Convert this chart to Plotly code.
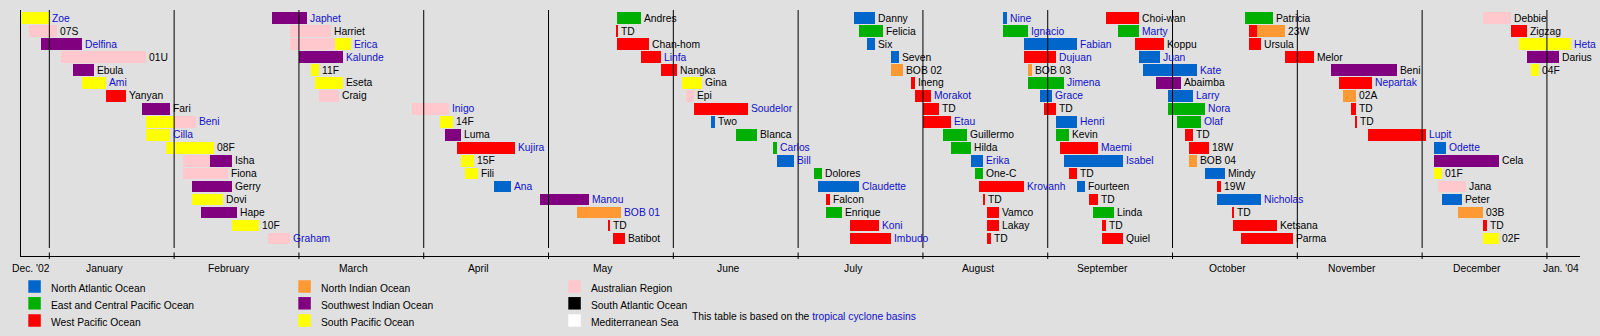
import calendar
import plotly.graph_objects as go

# ---------------- data ----------------
storm_names = [
    "Zoe", "07S", "Delfina", "01U", "Ebula", "Ami", "Yanyan", "Fari", "Beni", "Cilla",
    "08F", "Isha", "Fiona", "Gerry", "Dovi", "Hape", "10F", "Graham",
    "Japhet", "Harriet", "Erica", "Kalunde", "11F", "Eseta", "Craig", "Inigo", "14F", "Luma",
    "Kujira", "15F", "Fili", "Ana", "Manou", "BOB 01", "TD", "Batibot",
    "Andres", "TD", "Chan-hom", "Linfa", "Nangka", "Gina", "Epi", "Soudelor", "Two", "Blanca",
    "Carlos", "Bill", "Dolores", "Claudette", "Falcon", "Enrique", "Koni", "Imbudo",
    "Danny", "Felicia", "Six", "Seven", "BOB 02", "Ineng", "Morakot", "TD", "Etau", "Guillermo",
    "Hilda", "Erika", "One-C", "Krovanh", "TD", "Vamco", "Lakay", "TD",
    "Nine", "Ignacio", "Fabian", "Dujuan", "BOB 03", "Jimena", "Grace", "TD", "Henri", "Kevin",
    "Maemi", "Isabel", "TD", "Fourteen", "TD", "Linda", "TD", "Quiel",
    "Choi-wan", "Marty", "Koppu", "Juan", "Kate", "Abaimba", "Larry", "Nora", "Olaf", "TD",
    "18W", "BOB 04", "Mindy", "19W", "Nicholas", "TD", "Ketsana", "Parma",
    "Patricia", "23W", "Ursula", "Melor", "Beni", "Nepartak", "02A", "TD", "TD", "Lupit",
    "Odette", "Cela", "01F", "Jana", "Peter", "03B", "TD", "02F",
    "Debbie", "Zigzag", "Heta", "Darius", "04F",
]

storm_basins = [
    "SP", "AU", "SWI", "AU", "SWI", "SP", "WP", "SWI", "SP", "SP", "SP", "AU", "AU", "SWI", "SP", "SWI", "SP", "AU",
    "SWI", "AU", "AU", "SWI", "SP", "SP", "AU", "AU", "SP", "SWI", "WP", "SP", "SP", "NA", "SWI", "NI", "WP", "WP",
    "EP", "WP", "WP", "WP", "WP", "SP", "AU", "WP", "NA", "EP", "EP", "NA", "EP", "NA", "WP", "EP", "WP", "WP",
    "NA", "EP", "NA", "NA", "NI", "WP", "WP", "WP", "WP", "EP", "EP", "NA", "EP", "WP", "WP", "WP", "WP", "WP",
    "NA", "EP", "NA", "WP", "NI", "EP", "NA", "WP", "NA", "EP", "WP", "NA", "WP", "NA", "WP", "EP", "WP", "WP",
    "WP", "EP", "WP", "NA", "NA", "SWI", "NA", "EP", "EP", "WP", "WP", "NI", "NA", "WP", "NA", "WP", "WP", "WP",
    "EP", "WP", "WP", "WP", "SWI", "WP", "NI", "WP", "WP", "WP", "NA", "SWI", "SP", "AU", "NA", "NI", "WP", "SP",
    "AU", "WP", "SP", "SWI", "SP",
]

storm_start = [
    "2002-12-25", "2002-12-27", "2002-12-30", "2003-01-04", "2003-01-07", "2003-01-09", "2003-01-15", "2003-01-24",
    "2003-01-25", "2003-01-25", "2003-01-30", "2003-02-03", "2003-02-03", "2003-02-05", "2003-02-05", "2003-02-07",
    "2003-02-14", "2003-02-22",
    "2003-02-23", "2003-02-27", "2003-02-27", "2003-03-01", "2003-03-04", "2003-03-05", "2003-03-06", "2003-03-29",
    "2003-04-05", "2003-04-06", "2003-04-09", "2003-04-10", "2003-04-11", "2003-04-18", "2003-04-29", "2003-05-08",
    "2003-05-16", "2003-05-17",
    "2003-05-18", "2003-05-18", "2003-05-18", "2003-05-24", "2003-05-29", "2003-06-03", "2003-06-04", "2003-06-06",
    "2003-06-10", "2003-06-16", "2003-06-25", "2003-06-26", "2003-07-05", "2003-07-06", "2003-07-08", "2003-07-08",
    "2003-07-14", "2003-07-14",
    "2003-07-15", "2003-07-16", "2003-07-18", "2003-07-24", "2003-07-24", "2003-07-29", "2003-07-30", "2003-08-01",
    "2003-08-01", "2003-08-06", "2003-08-08", "2003-08-13", "2003-08-14", "2003-08-15", "2003-08-16", "2003-08-17",
    "2003-08-17", "2003-08-17",
    "2003-08-21", "2003-08-21", "2003-08-26", "2003-08-26", "2003-08-27", "2003-08-27", "2003-08-30", "2003-08-31",
    "2003-09-03", "2003-09-03", "2003-09-04", "2003-09-05", "2003-09-06", "2003-09-08", "2003-09-11", "2003-09-12",
    "2003-09-14", "2003-09-14",
    "2003-09-15", "2003-09-18", "2003-09-22", "2003-09-23", "2003-09-24", "2003-09-27", "2003-09-30", "2003-09-30",
    "2003-10-02", "2003-10-04", "2003-10-05", "2003-10-05", "2003-10-09", "2003-10-12", "2003-10-12", "2003-10-16",
    "2003-10-16", "2003-10-18",
    "2003-10-19", "2003-10-20", "2003-10-20", "2003-10-29", "2003-11-09", "2003-11-11", "2003-11-12", "2003-11-14",
    "2003-11-15", "2003-11-18", "2003-12-04", "2003-12-04", "2003-12-04", "2003-12-05", "2003-12-06", "2003-12-10",
    "2003-12-16", "2003-12-16",
    "2003-12-16", "2003-12-23", "2003-12-25", "2003-12-27", "2003-12-28",
]

storm_end = [
    "2003-01-01", "2003-01-03", "2003-01-09", "2003-01-25", "2003-01-12", "2003-01-15", "2003-01-20", "2003-01-31",
    "2003-02-06", "2003-01-31", "2003-02-10", "2003-02-14", "2003-02-13", "2003-02-14", "2003-02-12", "2003-02-15",
    "2003-02-20", "2003-02-27",
    "2003-03-03", "2003-03-09", "2003-03-14", "2003-03-12", "2003-03-06", "2003-03-12", "2003-03-11", "2003-04-07",
    "2003-04-08", "2003-04-10", "2003-04-23", "2003-04-13", "2003-04-14", "2003-04-22", "2003-05-11", "2003-05-19",
    "2003-05-16", "2003-05-20",
    "2003-05-24", "2003-05-18", "2003-05-26", "2003-05-29", "2003-06-02", "2003-06-08", "2003-06-06", "2003-06-19",
    "2003-06-11", "2003-06-21", "2003-06-26", "2003-06-30", "2003-07-07", "2003-07-16", "2003-07-09", "2003-07-12",
    "2003-07-21", "2003-07-24",
    "2003-07-20", "2003-07-22", "2003-07-20", "2003-07-26", "2003-07-27", "2003-07-30", "2003-08-03", "2003-08-05",
    "2003-08-08", "2003-08-12", "2003-08-13", "2003-08-16", "2003-08-16", "2003-08-26", "2003-08-16", "2003-08-20",
    "2003-08-20", "2003-08-18",
    "2003-08-22", "2003-08-27", "2003-09-08", "2003-09-03", "2003-08-28", "2003-09-05", "2003-09-02", "2003-09-03",
    "2003-09-08", "2003-09-06", "2003-09-13", "2003-09-19", "2003-09-08", "2003-09-10", "2003-09-13", "2003-09-17",
    "2003-09-15", "2003-09-19",
    "2003-09-23", "2003-09-23", "2003-09-29", "2003-09-28", "2003-10-07", "2003-10-03", "2003-10-06", "2003-10-09",
    "2003-10-08", "2003-10-06", "2003-10-10", "2003-10-07", "2003-10-14", "2003-10-13", "2003-10-23", "2003-10-16",
    "2003-10-27", "2003-10-31",
    "2003-10-26", "2003-10-29", "2003-10-23", "2003-11-05", "2003-11-25", "2003-11-19", "2003-11-15", "2003-11-15",
    "2003-11-15", "2003-12-02", "2003-12-07", "2003-12-20", "2003-12-06", "2003-12-12", "2003-12-11", "2003-12-16",
    "2003-12-17", "2003-12-20",
    "2003-12-23", "2003-12-27", "2004-01-07", "2004-01-04", "2003-12-30",
]

# 1 = name shown as a link (blue)
storm_linked = [
    1, 0, 1, 0, 0, 1, 0, 0, 1, 1, 0, 0, 0, 0, 0, 0, 0, 1,
    1, 0, 1, 1, 0, 0, 0, 1, 0, 0, 1, 0, 0, 1, 1, 1, 0, 0,
    0, 0, 0, 1, 0, 0, 0, 1, 0, 0, 1, 1, 0, 1, 0, 0, 1, 1,
    0, 0, 0, 0, 0, 0, 1, 0, 1, 0, 0, 1, 0, 1, 0, 0, 0, 0,
    1, 1, 1, 1, 0, 1, 1, 0, 1, 0, 1, 1, 0, 0, 0, 0, 0, 0,
    0, 1, 0, 1, 1, 0, 1, 1, 1, 0, 0, 0, 0, 0, 1, 0, 0, 0,
    0, 0, 0, 0, 0, 1, 0, 0, 0, 1, 1, 0, 0, 0, 0, 0, 0, 0,
    0, 0, 1, 0, 0,
]

# storms that moved into another basin: storm index -> (date of change, new basin)
basin_changes = {
    8: ("2003-02-01", "AU"),
    11: ("2003-02-09", "SWI"),
    20: ("2003-03-10", "SP"),
    109: ("2003-10-22", "NI"),
}

basin_keys = ["NA", "EP", "WP", "NI", "SWI", "SP", "AU", "SA", "MED"]
basin_names = [
    "North Atlantic Ocean", "East and Central Pacific Ocean", "West Pacific Ocean",
    "North Indian Ocean", "Southwest Indian Ocean", "South Pacific Ocean",
    "Australian Region", "South Atlantic Ocean", "Mediterranean Sea",
]
basin_colors = ["#0066CC", "#00B000", "#FF0000", "#FF9933", "#800080", "#FFFF00",
                "#FFC8CC", "#000000", "#FFFFFF"]

month_labels = ["Dec. '02", "January", "February", "March", "April", "May", "June", "July",
                "August", "September", "October", "November", "December", "Jan. '04"]

# ---------------- layout constants ----------------
W, H = 1600, 336
ML, MR, MT, MB = 21, 20, 10, 80
PW, PH = W - ML - MR, H - MT - MB
ROWS = 18
FONT = "Liberation Sans, Arial, sans-serif"
FS = 10.3
LINK = "#1010C8"
BG = "#E0E0E0"
X0, X1 = -0.227, 12.265
Y_TOP, Y_BOT = -0.633, 18.36
MIN_LEN = 0.012


def to_x(d):
    y, m, day = (int(v) for v in d.split("-"))
    nd = calendar.monthrange(y, m)[1]
    return (y - 2003) * 12 + (m - 1) + (day - 1) / nd


def px_x(p):
    return (p - ML) / PW


def px_y(p):
    return (H - MB - p) / PH


color_of = dict(zip(basin_keys, basin_colors))
segs = {k: {"y": [], "base": [], "len": []} for k in basin_keys}
labels = []
for i, name in enumerate(storm_names):
    row = i % ROWS
    s, e = to_x(storm_start[i]), to_x(storm_end[i])
    if e - s < MIN_LEN:
        e = s + MIN_LEN
    if i in basin_changes:
        cd, nb = basin_changes[i]
        c = to_x(cd)
        parts = [(storm_basins[i], s, c), (nb, c, e)]
    else:
        parts = [(storm_basins[i], s, e)]
    for b, a, z in parts:
        segs[b]["y"].append(row)
        segs[b]["base"].append(a)
        segs[b]["len"].append(z - a)
    labels.append((e, row, name, storm_linked[i]))

fig = go.Figure()
for k in basin_keys:
    if not segs[k]["y"]:
        continue
    fig.add_trace(go.Bar(
        orientation="h", y=segs[k]["y"], x=segs[k]["len"], base=segs[k]["base"],
        width=0.9, marker=dict(color=color_of[k], line=dict(width=0)),
        showlegend=False, hoverinfo="skip",
    ))

annotations = []
for e, row, name, linked in labels:
    annotations.append(dict(
        x=e, y=row, xref="x", yref="y", text=name, showarrow=False,
        xanchor="left", yanchor="middle", xshift=2, borderpad=0,
        font=dict(family=FONT, size=FS, color=LINK if linked else "#000000"),
    ))

# month axis labels
label_pos = [-0.145] + [m + 0.44 for m in range(12)] + [12.116]
for pos, txt in zip(label_pos, month_labels):
    annotations.append(dict(
        x=pos, y=px_y(268), xref="x", yref="paper", text=txt, showarrow=False,
        xanchor="center", yanchor="middle", borderpad=0,
        font=dict(family=FONT, size=FS, color="#000000"),
    ))

shapes = []
for m in range(13):
    shapes.append(dict(type="line", xref="x", yref="paper", x0=m, x1=m,
                       y0=px_y(248), y1=1, line=dict(color="black", width=1), layer="above"))
    shapes.append(dict(type="line", xref="x", yref="paper", x0=m, x1=m,
                       y0=px_y(259), y1=px_y(252.5), line=dict(color="black", width=1)))

# legend (3 columns x 3 rows)
col_sq = [28.3, 298.3, 568.3]
col_tx = [50, 320, 590]
row_sq = [286.5, 303.3, 320.5]
row_tx = [288.3, 305.3, 322]
SQ = 12.5
for j, (nm, colr) in enumerate(zip(basin_names, basin_colors)):
    c, r = j // 3, j % 3
    shapes.append(dict(type="rect", xref="paper", yref="paper",
                       x0=px_x(col_sq[c]), x1=px_x(col_sq[c] + SQ),
                       y0=px_y(row_sq[r] + SQ / 2), y1=px_y(row_sq[r] - SQ / 2),
                       fillcolor=colr, line=dict(width=0)))
    annotations.append(dict(
        x=px_x(col_tx[c]), y=px_y(row_tx[r]), xref="paper", yref="paper", text=nm,
        showarrow=False, xanchor="left", yanchor="middle", borderpad=0,
        font=dict(family=FONT, size=FS, color="#000000"),
    ))

annotations.append(dict(
    x=px_x(690.5), y=px_y(316), xref="paper", yref="paper",
    text="This table is based on the <span style='color:%s'>tropical cyclone basins</span>" % LINK,
    showarrow=False, xanchor="left", yanchor="middle", borderpad=0,
    font=dict(family=FONT, size=FS, color="#000000"),
))

fig.update_layout(
    width=W, height=H, autosize=False,
    margin=dict(l=ML, r=MR, t=MT, b=MB, pad=0),
    paper_bgcolor=BG, plot_bgcolor=BG,
    barmode="overlay", bargap=0,
    xaxis=dict(range=[X0, X1], showgrid=False, zeroline=False, showticklabels=False,
               ticks="", showline=True, linecolor="black", linewidth=1, fixedrange=True),
    yaxis=dict(range=[Y_BOT, Y_TOP], showgrid=False, zeroline=False, showticklabels=False,
               ticks="", showline=True, linecolor="black", linewidth=1, fixedrange=True),
    shapes=shapes, annotations=annotations,
    font=dict(family=FONT, size=FS),
)

fig.write_html("out.html", config={"displayModeBar": False})
